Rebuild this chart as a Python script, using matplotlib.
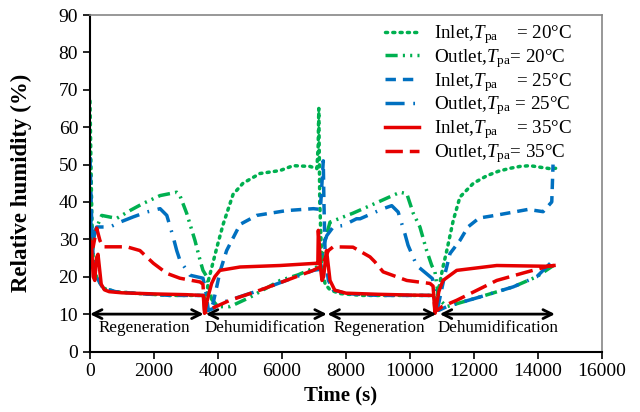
import matplotlib
matplotlib.use('Agg')
import matplotlib.pyplot as plt

# Fonts: Times-like serif everywhere
plt.rcParams['font.family'] = ['Liberation Serif', 'DejaVu Serif']
plt.rcParams['mathtext.fontset'] = 'custom'
plt.rcParams['mathtext.rm'] = 'Liberation Serif'
plt.rcParams['mathtext.it'] = 'Liberation Serif:italic'

# ---- data (time in s, relative humidity in %) ----
green_in_t = [0, 30, 60, 100, 200, 400, 800, 1500, 2500, 3400, 3550, 3620, 3700, 3850, 3970, 4160, 4470,
              4780, 5310, 5940, 6350, 6875, 7090, 7130, 7150, 7180, 7250, 7350, 7500, 7800, 8500, 9500,
              10500, 10750, 10800, 10900, 11030, 11150, 11350, 11560, 11980, 12400, 12760, 13125, 13440,
              13750, 14060, 14375, 14550]
green_in_rh = [67, 50, 35, 25, 20, 17, 16, 15.5, 15, 15, 15, 13, 19, 24, 28, 34, 42,
               45, 47.6, 48.4, 49.7, 49.5, 48.9, 55, 65, 40, 22, 18, 16.5, 15.5, 15, 15,
               15, 15, 12, 17, 22.6, 27, 35, 41.3, 45, 47, 48.2, 49, 49.5,
               49.7, 49.3, 48.9, 49]

green_out_t = [0, 100, 200, 365, 833, 1250, 1660, 2190, 2710, 2810, 3020, 3280, 3440, 3530, 3650, 3800,
               4000, 4375, 5000, 5940, 6500, 7190, 7250, 7350, 7500, 8220, 8750, 9690, 9900, 10100, 10310,
               10520, 10680, 10780, 10900, 11150, 12190, 13230, 13960, 14480]
green_out_rh = [32, 30, 33, 36.4, 35.6, 37.7, 39.6, 41.7, 42.6, 41.7, 37, 29.7, 24.4, 21.7, 20, 14,
                12, 12, 14.5, 19, 20.5, 23, 25, 30, 34.6, 37, 39, 42.6, 42.2, 37, 33.3,
                27, 23, 21.3, 14, 12, 14.6, 17.3, 20, 23]

blue_in_t = [0, 30, 60, 100, 200, 400, 800, 1500, 2500, 3500, 3600, 3650, 3750, 3850, 3960, 4060, 4270,
             4690, 5210, 6150, 6980, 7200, 7290, 7310, 7350, 7450, 7600, 8000, 9000, 10000, 10750, 10850,
             10950, 11100, 11250, 11560, 11810, 12160, 12660, 13180, 13690, 14160, 14430, 14450, 14470]
blue_in_rh = [52, 42, 32, 25, 20, 17, 16, 15.5, 15, 15, 15, 11, 11, 13, 17.3, 21.3, 27,
              34, 36.4, 37.7, 38.2, 38, 51, 40, 25, 19, 16.5, 15.5, 15, 15, 15, 11,
              15, 21, 26.2, 29.7, 33.3, 35.7, 36.4, 37.2, 38, 37.4, 40, 45, 50]

blue_out_t = [0, 30, 100, 208, 625, 937, 1350, 1770, 2190, 2400, 2600, 2710, 2810, 3125, 3530, 3600, 3700,
              3850, 4060, 5310, 6980, 7200, 7280, 7400, 7600, 7910, 8330, 8440, 9160, 9430, 9630, 9840,
              9940, 10210, 10700, 10800, 10900, 11150, 12190, 13230, 13960, 14480, 14550]
blue_out_rh = [30, 35, 30, 33.3, 33.3, 34.6, 36, 37.3, 38.2, 36.4, 30.6, 27, 24.4, 20.4, 19.6, 17, 11,
               11.5, 12.9, 16.4, 21.7, 22, 28, 31, 33.3, 33.7, 35.5, 35.5, 38.2, 39, 37.3, 31.5,
               28.4, 23, 19.5, 15, 11, 12, 14.6, 17.3, 20, 24.4, 25]

red_in_t = [0, 50, 100, 150, 200, 250, 300, 350, 450, 600, 1000, 2000, 3000, 3500, 3540, 3580, 3620, 3700,
            3800, 3900, 4060, 4690, 5940, 7080, 7120, 7135, 7170, 7200, 7250, 7300, 7390, 7420, 7500, 7650,
            8000, 9000, 10000, 10700, 10740, 10780, 10820, 10900, 11030, 11460, 12710, 14270, 14500]
red_in_rh = [30, 28, 20, 19, 25, 26, 22, 18, 16.5, 16, 15.7, 15.4, 15.2, 15, 15, 10.2, 12, 15,
             18.2, 20, 21.7, 22.6, 23, 23.6, 23.5, 32.4, 28, 22.6, 19, 20, 27, 25, 19, 16.4,
             15.6, 15.3, 15.1, 15, 15, 10.2, 12, 16, 19, 21.7, 23, 22.8, 23]

red_out_t = [0, 100, 208, 310, 400, 625, 1150, 1560, 1980, 2400, 2810, 3440, 3530, 3580, 3650, 3800, 4375,
             5310, 6980, 7150, 7300, 7450, 7600, 8220, 8750, 8900, 9160, 9900, 10625, 10720, 10780, 10850,
             11000, 11460, 12710, 13540, 14310, 14500]
red_out_rh = [30, 28, 33, 29.7, 28, 28, 28, 27, 23.6, 20.9, 19.6, 18.6, 18, 11, 10.5, 11.5, 13.7,
              16.4, 21.7, 22.5, 24, 27, 28, 27.9, 25.3, 24, 21.3, 19, 18.2, 17.5, 11, 11,
              12, 13.7, 19, 21, 22.8, 23]

# phase arrows along RH = 10 % and their labels
phase_spans = [(0, 3550), (3620, 7400), (7420, 10820), (10930, 14530)]
phase_names = ['Regeneration', 'Dehumidification', 'Regeneration', 'Dehumidification']
phase_label_x = [1700, 5470, 9030, 12750]

labels = [r'Inlet,$T_{\mathrm{pa}}$    = 20°C',
          r'Outlet,$T_{\mathrm{pa}}$= 20°C',
          r'Inlet,$T_{\mathrm{pa}}$    = 25°C',
          r'Outlet,$T_{\mathrm{pa}}$ = 25°C',
          r'Inlet,$T_{\mathrm{pa}}$    = 35°C',
          r'Outlet,$T_{\mathrm{pa}}$= 35°C']

green = '#00B050'
blue = '#0070C0'
red = '#E60000'

fig = plt.figure(figsize=(6.4, 4.12), dpi=100)
ax = fig.add_axes([90 / 640, 1 - 351.5 / 412, 512 / 640, 336.5 / 412])

lw = 2.5
ax.plot(green_in_t, green_in_rh, color=green, lw=lw, ls=(0, (0.6, 1.5)), dash_capstyle='round', label=labels[0])
ax.plot(green_out_t, green_out_rh, color=green, lw=lw, ls=(0, (3.5, 1.5, 0.6, 1.5, 0.6, 1.5)), label=labels[1])
ax.plot(blue_in_t, blue_in_rh, color=blue, lw=lw, ls=(0, (3, 2)), label=labels[2])
ax.plot(blue_out_t, blue_out_rh, color=blue, lw=lw, ls=(0, (5.5, 2.5, 0.5, 2.5)), label=labels[3])
ax.plot(red_in_t, red_in_rh, color=red, lw=lw, ls='-', label=labels[4])
ax.plot(red_out_t, red_out_rh, color=red, lw=lw, ls=(0, (5, 2)), label=labels[5])

for (x0, x1), name, xl in zip(phase_spans, phase_names, phase_label_x):
    ax.annotate('', xy=(x1, 10), xytext=(x0, 10),
                arrowprops=dict(arrowstyle='<->', color='black', lw=2, mutation_scale=16,
                                shrinkA=0, shrinkB=0))
    ax.text(xl, 6.3, name, ha='center', va='center', fontsize=12.3)

ax.set_xlim(0, 16000)
ax.set_ylim(0, 90)
ax.set_xticks(range(0, 16001, 2000))
ax.set_yticks(range(0, 91, 10))
ax.tick_params(direction='out', length=5, width=1.2, labelsize=14, top=False, right=False)
for side in ['left', 'bottom']:
    ax.spines[side].set_color('black')
    ax.spines[side].set_linewidth(1.5)
for side in ['top', 'right']:
    ax.spines[side].set_color('#868686')
    ax.spines[side].set_linewidth(1.2)

ax.set_xlabel('Time (s)', fontsize=15, fontweight='bold')
ax.set_ylabel('Relative humidity (%)', fontsize=16.5, fontweight='bold')
ax.xaxis.set_label_coords((341 - 90) / 512, -0.1)
ax.yaxis.set_label_coords((32 - 90) / 512, 0.5)

ax.legend(loc='upper left', bbox_to_anchor=(385 / 640, 1 - 23 / 412), bbox_transform=fig.transFigure,
          frameon=False, fontsize=13.7, handlelength=1.8, handletextpad=0.75, labelspacing=0.05,
          borderpad=0, borderaxespad=0)

fig.savefig('out.png', dpi=100)
